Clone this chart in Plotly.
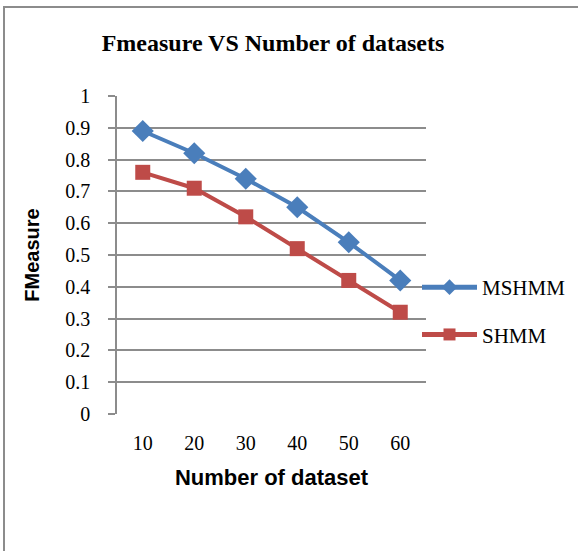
import plotly.graph_objects as go

categories = ["10", "20", "30", "40", "50", "60"]
mshmm = [0.89, 0.82, 0.74, 0.65, 0.54, 0.42]
shmm = [0.76, 0.71, 0.62, 0.52, 0.42, 0.32]
y_ticks = [0, 0.1, 0.2, 0.3, 0.4, 0.5, 0.6, 0.7, 0.8, 0.9, 1]
y_labels = ["0", "0.1", "0.2", "0.3", "0.4", "0.5", "0.6", "0.7", "0.8", "0.9", "1"]

W, H = 578, 551
L, R, T, B = 117, 152, 96, 137
pw, ph = W - L - R, H - T - B

fig = go.Figure()
fig.add_trace(go.Scatter(x=categories, y=mshmm, name="MSHMM", mode="lines+markers",
                         legendgroup="a",
                         line=dict(color="#4a7ebb", width=4),
                         marker=dict(symbol="diamond", size=17, color="#4a7ebb")))
fig.add_trace(go.Scatter(x=categories, y=shmm, name="SHMM", mode="lines+markers",
                         legendgroup="b",
                         line=dict(color="#be4b48", width=4),
                         marker=dict(symbol="square", size=15, color="#be4b48")))

fig.update_layout(
    width=W, height=H,
    margin=dict(l=L, r=R, t=T, b=B, pad=0, autoexpand=False),
    paper_bgcolor="white", plot_bgcolor="white",
    font=dict(family="Liberation Serif", size=20, color="black"),
    title=dict(text="<b>Fmeasure VS Number of datasets</b>", x=273 / W, xanchor="center",
               y=1 - 43 / H, yanchor="middle",
               font=dict(family="Liberation Serif", size=24, color="black")),
    showlegend=True,
    legend=dict(x=(417 - L) / pw, xanchor="left", y=(H - B - 267) / ph, yanchor="top",
                font=dict(family="Liberation Serif", size=21, color="black"),
                bgcolor="rgba(0,0,0,0)", itemwidth=55, tracegroupgap=17,
                itemsizing="constant"),
    xaxis=dict(type="category", range=[-0.5, 5.5], showgrid=False, showline=False,
               ticks="", tickfont=dict(family="Liberation Serif", size=20),
               ticklabelstandoff=15,
               title=dict(text="<b>Number of dataset</b>",
                          font=dict(family="Liberation Sans", size=22), standoff=16)),
    yaxis=dict(range=[0, 1], tickvals=y_ticks, ticktext=y_labels, showgrid=True,
               gridcolor="#8c8c8c", gridwidth=1.5, showline=True, linecolor="#8c8c8c",
               linewidth=1.5, ticks="outside", ticklen=7, tickcolor="#8c8c8c",
               tickwidth=1.5, zeroline=False,
               tickfont=dict(family="Liberation Serif", size=20),
               ticklabelstandoff=14,
               title=dict(text="<b>FMeasure</b>",
                          font=dict(family="Liberation Sans", size=20), standoff=20)),
)

fig.add_shape(type="rect", xref="paper", yref="paper",
              x0=(4 - L) / pw, x1=(W + 20 - L) / pw,
              y0=(H - B - (H + 20)) / ph, y1=(H - B - 7) / ph,
              line=dict(color="#8c8c8c", width=2), fillcolor="rgba(0,0,0,0)", layer="below")

fig.write_html("out.html", config={"displayModeBar": False},
               post_script="document.body.style.margin='0px';")
